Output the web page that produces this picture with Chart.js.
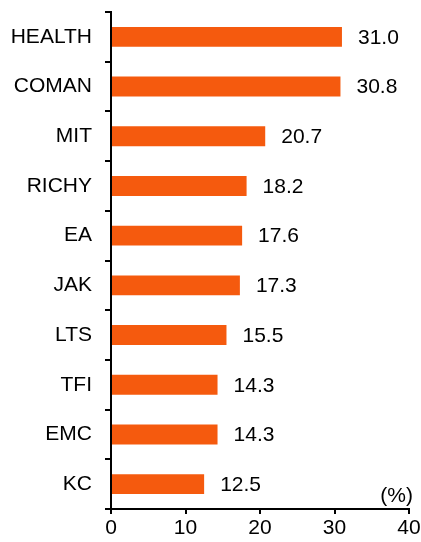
<!DOCTYPE html>
<html>
<head>
<meta charset="utf-8">
<script src="https://cdn.jsdelivr.net/npm/chart.js@4"></script>
<style>
    html, body { margin: 0; padding: 0; background: #fff; }
    #wrap { width: 421px; height: 542px; }
</style>
</head>
<body>
<div id="wrap"><canvas id="barChart"></canvas></div>
<script>
// ── Data ──────────────────────────────────────────────────────
const categories = ['HEALTH', 'COMAN', 'MIT', 'RICHY', 'EA', 'JAK', 'LTS', 'TFI', 'EMC', 'KC'];
const values     = [31.0, 30.8, 20.7, 18.2, 17.6, 17.3, 15.5, 14.3, 14.3, 12.5];
const xTicks     = [0, 10, 20, 30, 40];
const unitLabel  = '(%)';

const FONT      = '"Liberation Sans", Arial, sans-serif';
const FONT_SIZE = 21;
const BAR_COLOR = '#F55A0E';

// ── Value labels + unit text ──────────────────────────────────
const labelPlugin = {
    id: 'valueLabels',
    afterDatasetsDraw(chart) {
        const ctx  = chart.ctx;
        const bars = chart.getDatasetMeta(0).data;
        ctx.save();
        ctx.font = FONT_SIZE + 'px ' + FONT;
        ctx.fillStyle = '#000';
        ctx.textAlign = 'left';
        ctx.textBaseline = 'middle';
        bars.forEach((bar, i) => {
            ctx.fillText(values[i].toFixed(1), bar.x + 16, bar.y + 1);
        });
        // unit label sits just above the x axis, right end
        ctx.textAlign = 'right';
        ctx.textBaseline = 'alphabetic';
        ctx.fillText(unitLabel, chart.chartArea.right + 4, chart.chartArea.bottom - 7);
        ctx.restore();
    }
};

new Chart(document.getElementById('barChart'), {
    type: 'bar',
    data: {
        labels: categories,
        datasets: [{
            data: values,
            backgroundColor: BAR_COLOR,
            barPercentage: 0.4,
            categoryPercentage: 1.0
        }]
    },
    options: {
        indexAxis: 'y',
        responsive: true,
        maintainAspectRatio: false,
        animation: false,
        layout: { padding: { top: 12, right: 12, left: 0, bottom: 0 } },
        plugins: {
            legend:  { display: false },
            tooltip: { enabled: false }
        },
        scales: {
            x: {
                min: 0,
                max: 40,
                afterBuildTicks: (scale) => {
                    scale.ticks = xTicks.map(v => ({ value: v }));
                },
                afterFit: (scale) => {
                    scale.height = 33;
                    scale.paddingLeft = 0;
                    scale.paddingRight = 0;
                },
                border: { display: true, color: '#000', width: 2 },
                grid: {
                    drawOnChartArea: false,
                    drawTicks: true,
                    tickLength: 5,
                    color: '#000',
                    lineWidth: 2
                },
                ticks: {
                    color: '#000',
                    font: { family: FONT, size: FONT_SIZE },
                    padding: 2,
                    maxRotation: 0
                }
            },
            y: {
                afterFit: (scale) => {
                    scale.width = 111;
                    scale.paddingTop = 0;
                    scale.paddingBottom = 0;
                },
                border: { display: true, color: '#000', width: 2 },
                grid: {
                    offset: true,
                    drawOnChartArea: false,
                    drawTicks: true,
                    tickLength: 6,
                    color: '#000',
                    lineWidth: 2
                },
                ticks: {
                    color: '#000',
                    font: { family: FONT, size: FONT_SIZE },
                    padding: 13
                }
            }
        }
    },
    plugins: [labelPlugin]
});
</script>
</body>
</html>
